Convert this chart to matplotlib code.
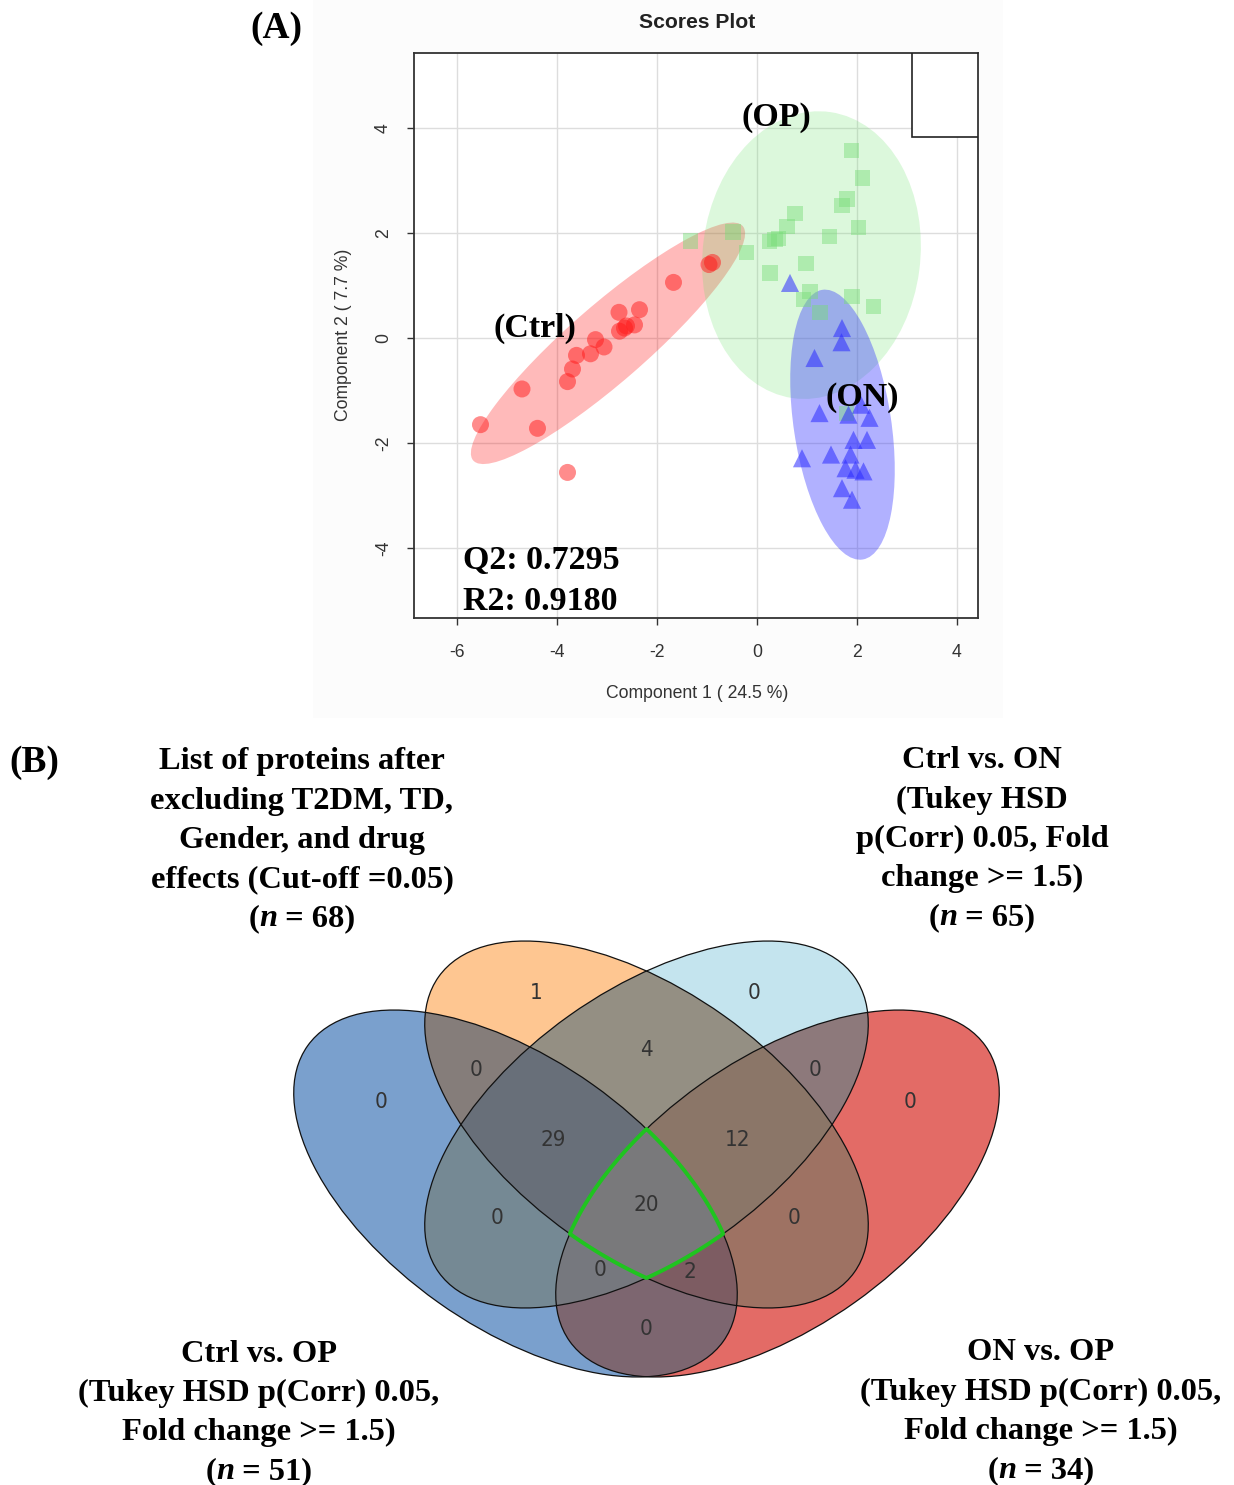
import numpy as np
import matplotlib
matplotlib.use("Agg")
import matplotlib.pyplot as plt
from matplotlib.patches import Ellipse, Rectangle
from matplotlib.colors import to_rgba

plt.rcParams["axes.unicode_minus"] = False

W, H, DPI = 1234, 1485, 100
SANS = "Liberation Sans"
SERIF = "Liberation Serif"

# ---------------- (A) PLS-DA scores ----------------
ctrl_x = [-5.53, -4.70, -4.39, -3.79, -3.79, -3.69, -3.61, -3.33, -3.23, -3.06,
          -2.76, -2.35, -2.75, -2.61, -2.45, -2.65, -1.67, -0.96, -0.89]
ctrl_y = [-1.65, -0.97, -1.72, -2.56, -0.83, -0.59, -0.33, -0.30, -0.03, -0.17,
          0.49, 0.54, 0.13, 0.23, 0.25, 0.19, 1.06, 1.40, 1.44]
op_x = [1.89, 2.11, 1.80, 1.70, 0.76, 0.60, 2.03, 1.45, 0.43, 0.25, -0.21,
        0.98, 0.26, 1.90, 2.33, 1.06, 0.93, 1.26, -1.33, -0.48, 1.79, 0.36]
op_y = [3.57, 3.05, 2.65, 2.52, 2.38, 2.13, 2.10, 1.94, 1.90, 1.84, 1.63,
        1.42, 1.24, 0.79, 0.60, 0.89, 0.73, 0.48, 1.85, 2.02, -1.44, 1.88]
on_x = [0.66, 1.70, 1.69, 1.15, 1.25, 1.83, 2.08, 2.25, 1.93, 2.20, 0.90,
        1.48, 1.87, 1.77, 2.13, 1.97, 1.70, 1.90]
on_y = [1.05, 0.19, -0.08, -0.38, -1.43, -1.46, -1.27, -1.52, -1.94, -1.94,
        -2.29, -2.22, -2.22, -2.48, -2.54, -2.51, -2.86, -3.08]

# 95% ellipses: centre x, centre y, width, height, angle
ell_ctrl = (-2.98, -0.10, 7.0, 1.5, 39.5)
ell_op = (1.09, 1.58, 4.35, 5.5, -8.0)
ell_on = (1.71, -1.65, 1.95, 5.2, 9.0)

q2, r2 = 0.7295, 0.9180
x_ticks = [-6, -4, -2, 0, 2, 4]
y_ticks = [-4, -2, 0, 2, 4]

# ---------------- (B) four-set Venn ----------------
set_cx = [515.5, 646.5, 646.5, 777.5]
set_cy = [1193.5, 1124.5, 1124.5, 1193.5]
set_angle = [35.4, 35.4, -35.4, -35.4]
set_a, set_b = 255.0, 133.5

regions = ["1000", "0100", "0010", "0001", "1100", "0110", "0011", "1110",
           "0111", "1111", "1010", "0101", "1011", "1101", "1001"]
counts = [0, 1, 0, 0, 0, 4, 0, 29, 12, 20, 0, 0, 0, 2, 0]
label_x = [381, 536, 754, 910, 476, 646, 815, 553, 738, 646, 497, 794, 600, 690, 646]
label_y = [1102, 993, 993, 1102, 1070, 1050, 1070, 1140, 1140, 1205, 1218, 1218,
           1270, 1272, 1329]
region_colors = {
    "1000": "#7aa0cd", "0100": "#fec691", "0010": "#c4e4ee", "0001": "#e36b66",
    "1100": "#857d7a", "0110": "#948f83", "0011": "#8d797b", "1110": "#686f79",
    "0111": "#8b7668", "1111": "#79797b", "1010": "#758994", "0101": "#9e7263",
    "1011": "#76787e", "1101": "#7d5c62", "1001": "#7d6670",
}

fig = plt.figure(figsize=(W / DPI, H / DPI), dpi=DPI)
fig.patch.set_facecolor("white")

# full-figure pixel axes for panel B and free text
ax_v = fig.add_axes([0, 0, 1, 1])
ax_v.set_axis_off()

ax_v.add_patch(Rectangle((313, 0), 690, 718, facecolor="#fcfcfc", edgecolor="none", zorder=0))

# region raster
gx = np.arange(280, 1012, 0.5)
gy = np.arange(930, 1392, 0.5)
GX, GY = np.meshgrid(gx, gy)
levels = []
for cx, cy, ang in zip(set_cx, set_cy, set_angle):
    t = np.deg2rad(ang)
    dx, dy = GX - cx, GY - cy
    u = dx * np.cos(t) + dy * np.sin(t)
    v = -dx * np.sin(t) + dy * np.cos(t)
    levels.append((u / set_a) ** 2 + (v / set_b) ** 2)
rgba = np.zeros(GX.shape + (4,))
for key, col in region_colors.items():
    m = np.ones(GX.shape, bool)
    for k, f in zip(key, levels):
        m &= (f <= 1) if k == "1" else (f > 1)
    rgba[m] = to_rgba(col)
ax_v.imshow(rgba, extent=(gx[0] - 0.25, gx[-1] + 0.25, gy[-1] + 0.25, gy[0] - 0.25),
            interpolation="nearest", zorder=1)
for cx, cy, ang in zip(set_cx, set_cy, set_angle):
    ax_v.add_patch(Ellipse((cx, cy), 2 * set_a, 2 * set_b, angle=ang, fill=False,
                           edgecolor="#111111", lw=0.9, zorder=2))
ax_v.contour(GX, GY, np.maximum.reduce(levels), levels=[1.0], colors="#1fc41f",
             linewidths=2.8, zorder=3)
for x, y, c in zip(label_x, label_y, counts):
    ax_v.text(x, y, str(c), ha="center", va="center", fontsize=16, color="#333333",
              family="DejaVu Sans", fontstretch="condensed", zorder=4)

ax_v.set_xlim(0, W)
ax_v.set_ylim(H, 0)
ax_v.set_aspect("auto")

# panel letters
ax_v.text(276, 28, "(A)", ha="center", va="center", fontsize=27, fontweight="bold", family=SERIF)
ax_v.text(34, 763, "(B)", ha="center", va="center", fontsize=27, fontweight="bold", family=SERIF)

# panel B captions
caption_tl = ["List of proteins after", "excluding T2DM, TD,", "Gender, and drug",
              "effects (Cut-off =0.05)"]
caption_tr = ["Ctrl vs. ON", "(Tukey HSD", "p(Corr) 0.05, Fold", "change >= 1.5)"]
caption_bl = ["Ctrl vs. OP", "(Tukey HSD p(Corr) 0.05,", "Fold change >= 1.5)"]
caption_br = ["ON vs. OP", "(Tukey HSD p(Corr) 0.05,", "Fold change >= 1.5)"]
n_sets = [68, 65, 51, 34]

blocks = [(caption_tl, 302, 762, n_sets[0]), (caption_tr, 982, 761, n_sets[1]),
          (caption_bl, 259, 1354, n_sets[2]), (caption_br, 1041, 1353, n_sets[3])]
LINE = 39.2
CAP = 23.4
n_lines = []
for lines, x, y0, n in blocks:
    for i, s in enumerate(lines):
        ax_v.text(x, y0 + i * LINE, s, ha="center", va="center", fontsize=CAP,
                  fontweight="bold", family=SERIF)
    parts = [("(", "normal"), ("n", "italic"), (f" = {n})", "normal")]
    ts = [ax_v.text(0, y0 + len(lines) * LINE, p, ha="left", va="center", fontsize=CAP,
                    fontweight="bold", fontstyle=st, family=SERIF) for p, st in parts]
    n_lines.append((x, ts))

fig.canvas.draw()
renderer = fig.canvas.get_renderer()
for x, ts in n_lines:
    widths = [t.get_window_extent(renderer).width for t in ts]
    x0 = x - sum(widths) / 2
    for t, w in zip(ts, widths):
        t.set_x(x0)
        x0 += w

# ---------------- scores plot axes ----------------
ax = fig.add_axes([414 / W, 1 - 618 / H, (978 - 414) / W, (618 - 53) / H])
ax.set_xlim(-6.86, 4.42)
ax.set_ylim(-5.333, 5.43)
ax.set_facecolor("white")
ax.grid(True, color="#dddddd", lw=1.0)
ax.set_axisbelow(True)

for (cx, cy, w, h, ang), col, al in [(ell_ctrl, "#ff0000", 0.27),
                                      (ell_op, "#6ee36e", 0.24),
                                      (ell_on, "#3333ff", 0.38)]:
    ax.add_patch(Ellipse((cx, cy), w, h, angle=ang, facecolor=col, alpha=al,
                         edgecolor="none", zorder=2))

ax.scatter(ctrl_x, ctrl_y, s=150, marker="o", color="#ff1a1a", alpha=0.5,
           edgecolors="none", zorder=3)
ax.scatter(op_x, op_y, s=120, marker="s", color="#77dd77", alpha=0.45,
           edgecolors="none", zorder=3)
ax.scatter(on_x, on_y, s=170, marker="^", color="#2b2bff", alpha=0.55,
           edgecolors="none", zorder=3)

ax.add_patch(Rectangle((0.883, 0.851), 0.117, 0.149, transform=ax.transAxes,
                       facecolor="white", edgecolor="#222222", lw=1.2, zorder=4))

lab = dict(fontsize=24.5, fontweight="bold", family=SERIF, zorder=5)
ax.text(0.38, 4.21, "(OP)", ha="center", va="center", **lab)
ax.text(-4.44, 0.19, "(Ctrl)", ha="center", va="center", **lab)
ax.text(2.1, -1.14, "(ON)", ha="center", va="center", **lab)
ax.text(-5.88, -4.23, f"Q2: {q2:.4f}", ha="left", va="center", **lab)
ax.text(-5.88, -5.01, f"R2: {r2:.4f}", ha="left", va="center", **lab)

ax.set_xticks(x_ticks)
ax.set_yticks(y_ticks)
ax.tick_params(direction="out", length=5, width=1, color="#333333",
               labelsize=12.7, labelcolor="#333333", top=False, right=False)
ax.tick_params(axis="x", pad=14)
ax.tick_params(axis="y", pad=11)
for lbl in ax.get_xticklabels() + ax.get_yticklabels():
    lbl.set_family(SANS)
for lbl in ax.get_yticklabels():
    lbl.set_rotation(90)
    lbl.set_va("center")
for sp in ax.spines.values():
    sp.set_color("#333333")
    sp.set_linewidth(1.3)

ax_v.text(697, 22, "Scores Plot", ha="center", va="center", fontsize=15.2,
          fontweight="bold", family=SANS, color="#222222")
ax_v.text(697, 694, "Component 1 ( 24.5 %)", ha="center", va="center",
          fontsize=12.7, family=SANS, color="#333333")
ax_v.text(343, 335, "Component 2 ( 7.7 %)", ha="center", va="center", rotation=90,
          fontsize=12.7, family=SANS, color="#333333")

fig.savefig("out.png", dpi=DPI)
